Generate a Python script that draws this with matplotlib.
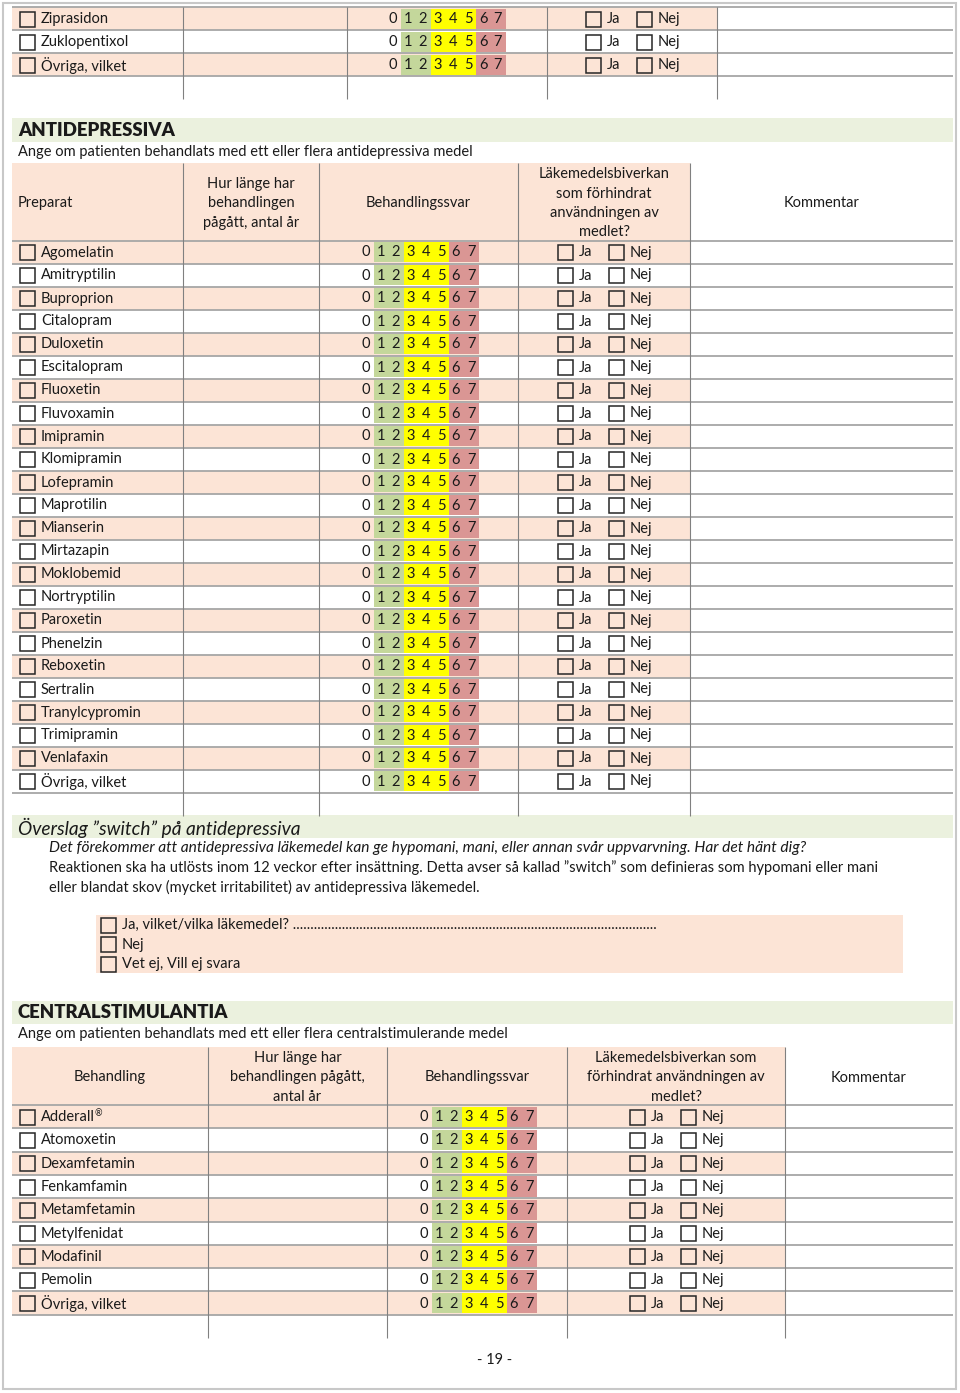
import matplotlib.pyplot as plt
from matplotlib.patches import Rectangle

# --- content ---
prev_drugs = ["Ziprasidon", "Zuklopentixol", "Övriga, vilket"]
antidep_drugs = ["Agomelatin", "Amitryptilin", "Buproprion", "Citalopram", "Duloxetin",
                 "Escitalopram", "Fluoxetin", "Fluvoxamin", "Imipramin", "Klomipramin",
                 "Lofepramin", "Maprotilin", "Mianserin", "Mirtazapin", "Moklobemid",
                 "Nortryptilin", "Paroxetin", "Phenelzin", "Reboxetin", "Sertralin",
                 "Tranylcypromin", "Trimipramin", "Venlafaxin", "Övriga, vilket"]
central_drugs = ["Adderall®", "Atomoxetin", "Dexamfetamin", "Fenkamfamin", "Metamfetamin",
                 "Metylfenidat", "Modafinil", "Pemolin", "Övriga, vilket"]
scores = [0, 1, 2, 3, 4, 5, 6, 7]
score_band = [None, "g", "g", "y", "y", "y", "r", "r"]
answers = ["Ja", "Nej"]

antidep_head = ["Preparat", "Hur länge har\nbehandlingen\npågått, antal år", "Behandlingssvar",
                "Läkemedelsbiverkan\nsom förhindrat\nanvändningen av\nmedlet?", "Kommentar"]
central_head = ["Behandling", "Hur länge har\nbehandlingen pågått,\nantal år", "Behandlingssvar",
                "Läkemedelsbiverkan som\nförhindrat användningen av\nmedlet?", "Kommentar"]
switch_title = "Överslag ”switch” på antidepressiva"
switch_text = ["Det förekommer att antidepressiva läkemedel kan ge hypomani, mani, eller annan svår uppvarvning. Har det hänt dig?",
               "Reaktionen ska ha utlösts inom 12 veckor efter insättning. Detta avser så kallad ”switch” som definieras som hypomani eller mani",
               "eller blandat skov (mycket irritabilitet) av antidepressiva läkemedel."]
switch_opts = ["Ja, vilket/vilka läkemedel? " + "." * 104, "Nej", "Vet ej, Vill ej svara"]

PEACH = "#FCE4D6"
BAR = "#EBF1DE"
BANDS = {"g": "#C4D79B", "y": "#FFFF00", "r": "#DA9694"}
FONT = "Lato"
FS = 10.5

fig = plt.figure(figsize=(9.6, 13.93), dpi=100)
ax = fig.add_axes([0, 0, 1, 1])
ax.set_xlim(0, 960)
ax.set_ylim(1393, 0)
ax.axis("off")


def txt(x, y, s, **kw):
    kw.setdefault("fontsize", FS)
    kw.setdefault("va", "center")
    return ax.text(x, y, s, family=FONT, color="#1a1a1a", **kw)


def checkbox(x, yc):
    ax.add_patch(Rectangle((x, yc - 7.5), 15, 15, fill=False, ec="#262626", lw=1.1))


def hline(y, x0, x1):
    ax.plot([x0, x1], [y, y], color="#A6A6A6", lw=1.3, solid_capstyle="butt")


def vline(x, y0, y1):
    ax.plot([x, x], [y0, y1], color="#808080", lw=0.8, solid_capstyle="butt")


def drug_table(names, cols, top, row_h, scale_x0, head=None, head_h=0, tail=23):
    shade_right = cols[4]
    y = top
    if head:
        ax.add_patch(Rectangle((cols[0], top), shade_right - cols[0], head_h, color=PEACH, lw=0))
        hc = top + head_h / 2 + 1.5
        if head[0] == "Preparat":
            txt(cols[0] + 6, hc, head[0])
        else:
            txt((cols[0] + cols[1]) / 2, hc, head[0], ha="center")
        for i in range(1, 5):
            txt((cols[i] + cols[i + 1]) / 2, hc, head[i], ha="center", linespacing=1.48)
        y = top + head_h
    hline(y, cols[0], cols[5])
    for i, name in enumerate(names):
        y0 = y + i * row_h
        yc = y0 + row_h / 2 + 0.5
        if i % 2 == 0:
            ax.add_patch(Rectangle((cols[0], y0), shade_right - cols[0], row_h, color=PEACH, lw=0))
        checkbox(cols[0] + 8, yc)
        if name.endswith("®"):
            t = txt(cols[0] + 29, yc, name[:-1])
            fig.canvas.draw()
            bb = t.get_window_extent()
            xe = ax.transData.inverted().transform((bb.x1, 0))[0]
            txt(xe - 0.5, yc - 3.5, "®", fontsize=6.5)
        else:
            txt(cols[0] + 29, yc, name)
        for s, band in zip(scores, score_band):
            xs = scale_x0 + 15 * s
            if band:
                ax.add_patch(Rectangle((xs - 7.5, y0 + 1.5), 15, row_h - 3, color=BANDS[band], lw=0))
            txt(xs, yc, str(s), ha="center")
        cx = (cols[3] + cols[4]) / 2
        for off, lab in zip([-46, 5], answers):
            checkbox(cx + off, yc)
            txt(cx + off + 21, yc, lab)
        hline(y0 + row_h, cols[0], cols[5])
    bottom = y + len(names) * row_h
    for c in cols[1:5]:
        vline(c, top, bottom + tail)
    return bottom


# page frame
ax.add_patch(Rectangle((3, 3), 953, 1386, fill=False, ec="#C8C8C8", lw=1.5))

# tail of previous table
drug_table(prev_drugs, [12, 183, 347, 547, 717, 953], 7, 23, 393)

# antidepressiva
ax.add_patch(Rectangle((12, 118), 941, 24, color=BAR, lw=0))
txt(18, 130, "ANTIDEPRESSIVA", fontsize=13.4, weight="heavy")
txt(18, 152, "Ange om patienten behandlats med ett eller flera antidepressiva medel")
drug_table(antidep_drugs, [12, 183, 319, 518, 690, 953], 163, 23, 366, antidep_head, 77.5)

# switch
ax.add_patch(Rectangle((12, 815), 941, 23, color=BAR, lw=0))
txt(18, 828, switch_title, fontsize=13.8, style="italic")
txt(49, 848, switch_text[0], style="italic", fontsize=11.2)
txt(49, 868, switch_text[1], fontsize=10.5)
txt(49, 887, switch_text[2], fontsize=10.5)
ax.add_patch(Rectangle((96, 915), 807, 58, color=PEACH, lw=0))
for i, opt in enumerate(switch_opts):
    yc = 925 + 19.5 * i
    checkbox(101, yc)
    txt(122, yc, opt)

# centralstimulantia
ax.add_patch(Rectangle((12, 1001), 941, 23, color=BAR, lw=0))
txt(18, 1012, "CENTRALSTIMULANTIA", fontsize=13.4, weight="heavy")
txt(18, 1034, "Ange om patienten behandlats med ett eller flera centralstimulerande medel")
drug_table(central_drugs, [12, 208, 387, 567, 785, 953], 1047, 23.3, 424, central_head, 58)

txt(495, 1360, "- 19 -", ha="center")

fig.savefig("out.png", dpi=100)
